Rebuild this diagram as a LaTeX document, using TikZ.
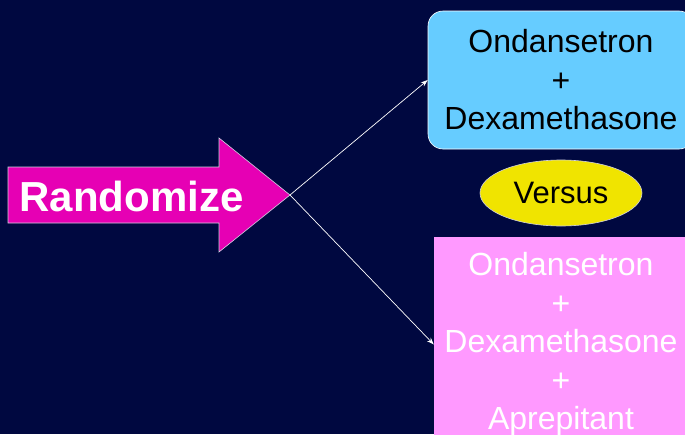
\documentclass[tikz,border=0pt]{standalone}
\usepackage{fontspec}
\setmainfont{Liberation Sans}
\usetikzlibrary{arrows.meta,positioning,shapes.geometric}
\definecolor{Night}{HTML}{000840}
\definecolor{Magenta}{HTML}{E600B4}
\definecolor{Sky}{HTML}{66CCFF}
\definecolor{Lemon}{HTML}{F0E400}
\definecolor{Orchid}{HTML}{FF99FF}
\definecolor{Edge}{HTML}{D0D0E0}

\begin{document}
\begin{tikzpicture}[x=1pt,y=-1pt,
        armbox/.style={minimum width=266pt,align=center,inner sep=0pt,
          font=\fontsize{32}{38.5}\selectfont},
        link/.style={draw=white,line width=0.7pt,-{Stealth[length=7pt,width=5pt]}}]
        \fill[Night] (0,0) rectangle (685,434);
        \clip (0,0) rectangle (685,434);
        % the randomize arrow
        \draw[Edge,line width=0.6pt,fill=Magenta] (8,167) -- (219,167) -- (219,138) -- (290,195)
          -- (219,252) -- (219,223) -- (8,223) -- cycle;
        \coordinate (tip) at (290,195);
        \node[text=white,font=\fontsize{42}{46}\selectfont\bfseries] (rand) at (131.5,196) {Randomize};
        % the two arms
        \node[armbox,draw=white,line width=0.6pt,fill=Sky,rounded corners=15pt,
          minimum height=138pt] (std) at (561,80) {Ondansetron\\+\\Dexamethasone};
        \node[armbox,fill=Orchid,text=white,minimum width=254pt,minimum height=215pt]
          (apr) at (561,344.5) {Ondansetron\\+\\Dexamethasone\\+\\Aprepitant};
        \node[ellipse,draw=Edge,line width=0.6pt,fill=Lemon,minimum width=162pt,minimum height=66pt,
          inner sep=0pt,font=\fontsize{31}{36}\selectfont] (vs) at (561,193) {Versus};
        \draw[link] (tip) -- (std.west);
        \draw[link] (tip) -- (apr.west);
      \end{tikzpicture}
\end{document}
